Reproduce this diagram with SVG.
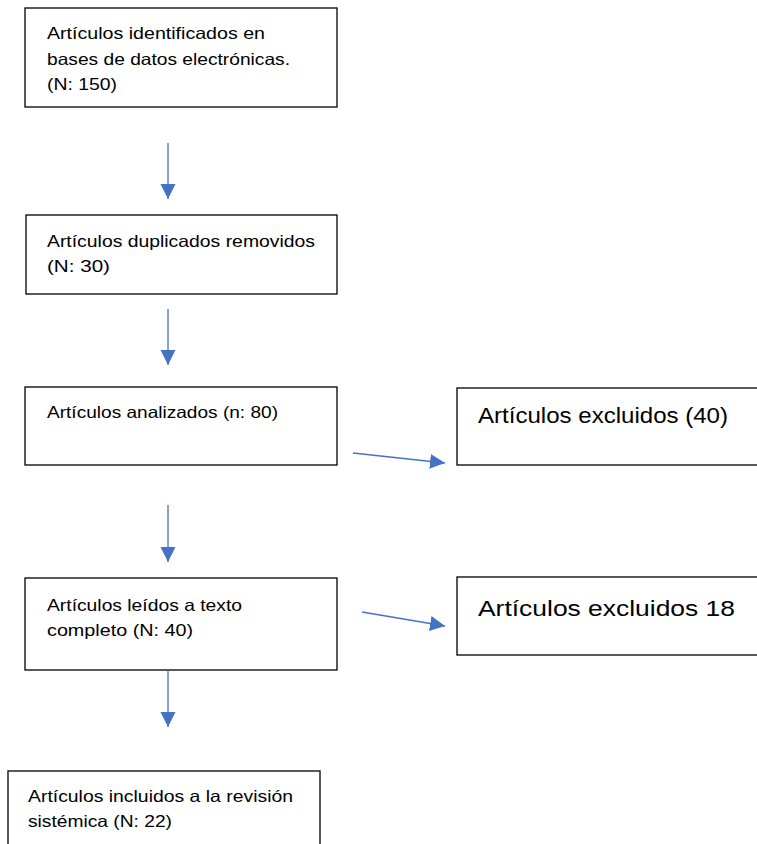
<svg xmlns="http://www.w3.org/2000/svg" width="757" height="844" viewBox="0 0 757 844">
<style>
.box{fill:#fff;stroke:#000;stroke-width:1.3}
.t{font-family:"Liberation Sans",Arial,sans-serif;font-size:16.5px;fill:#000}
.tl{font-family:"Liberation Sans",Arial,sans-serif;font-size:22px;fill:#000}
.c{stroke:#4472C4;stroke-width:1.3;fill:none;marker-end:url(#ah)}
</style>
<defs>
<marker id="ah" markerUnits="userSpaceOnUse" markerWidth="16" markerHeight="16" refX="15" refY="8" orient="auto">
<path d="M0,0.5 L15,8 L0,15.5 Z" fill="#4472C4"/>
</marker>
</defs>
<rect width="757" height="844" fill="#fff"/>
<g id="connectors">
<line class="c" x1="168" y1="143" x2="168" y2="199"/>
<line class="c" x1="168" y1="309" x2="168" y2="365"/>
<line class="c" x1="168" y1="505" x2="168" y2="562"/>
<line class="c" x1="168" y1="671" x2="168" y2="727"/>
<line class="c" x1="353" y1="453" x2="445" y2="463"/>
<line class="c" x1="362" y1="612" x2="445" y2="626"/>
</g>
<g id="n1">
<rect class="box" x="25" y="8" width="312" height="99"/>
<text class="t" x="47" y="39" textLength="218" lengthAdjust="spacingAndGlyphs">Artículos identificados en</text>
<text class="t" x="47" y="65" textLength="243" lengthAdjust="spacingAndGlyphs">bases de datos electrónicas.</text>
<text class="t" x="47" y="90" textLength="70" lengthAdjust="spacingAndGlyphs">(N: 150)</text>
</g>
<g id="n2">
<rect class="box" x="26" y="215" width="311" height="79"/>
<text class="t" x="47" y="247" textLength="268" lengthAdjust="spacingAndGlyphs">Artículos duplicados removidos</text>
<text class="t" x="47" y="272" textLength="63" lengthAdjust="spacingAndGlyphs">(N: 30)</text>
</g>
<g id="n3">
<rect class="box" x="25" y="387" width="312" height="78"/>
<text class="t" x="47" y="418" textLength="231" lengthAdjust="spacingAndGlyphs">Artículos analizados (n: 80)</text>
</g>
<g id="n3x">
<rect class="box" x="457" y="388" width="305" height="77"/>
<text class="tl" x="478" y="423" textLength="250" lengthAdjust="spacingAndGlyphs">Artículos excluidos (40)</text>
</g>
<g id="n4">
<rect class="box" x="25" y="578" width="312" height="92"/>
<text class="t" x="47" y="611" textLength="195" lengthAdjust="spacingAndGlyphs">Artículos leídos a texto</text>
<text class="t" x="47" y="636" textLength="146" lengthAdjust="spacingAndGlyphs">completo (N: 40)</text>
</g>
<g id="n4x">
<rect class="box" x="457" y="577" width="305" height="78"/>
<text class="tl" x="478" y="616" textLength="257" lengthAdjust="spacingAndGlyphs">Artículos excluidos 18</text>
</g>
<g id="n5">
<rect class="box" x="8" y="771" width="312" height="90"/>
<text class="t" x="28" y="802" textLength="265" lengthAdjust="spacingAndGlyphs">Artículos incluidos a la revisión</text>
<text class="t" x="28" y="827" textLength="144" lengthAdjust="spacingAndGlyphs">sistémica (N: 22)</text>
</g>
</svg>
